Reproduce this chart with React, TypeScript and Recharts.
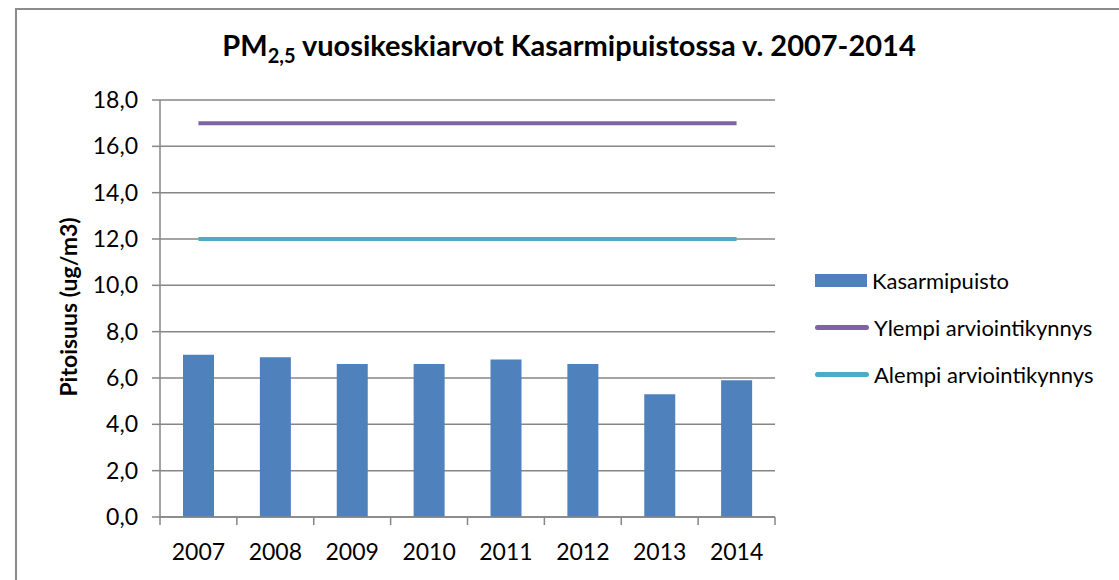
import React from 'react';
import { ComposedChart, Bar, Line, XAxis, YAxis, CartesianGrid, Label } from 'recharts';

const years = ['2007', '2008', '2009', '2010', '2011', '2012', '2013', '2014'];
const kasarmipuisto = [7.0, 6.9, 6.6, 6.6, 6.8, 6.6, 5.3, 5.9];
const ylempi = [17, 17, 17, 17, 17, 17, 17, 17];
const alempi = [12, 12, 12, 12, 12, 12, 12, 12];
const yTicks = [0, 2, 4, 6, 8, 10, 12, 14, 16, 18];

const data = years.map((y, i) => ({
  year: y,
  kasarmipuisto: kasarmipuisto[i],
  ylempi: ylempi[i],
  alempi: alempi[i],
}));

const W = 1119;
const H = 580;
const FONT = 'Lato, "Open Sans", sans-serif';
const GRID = '#868686';
const PLOT_LEFT = 160;
const PLOT_RIGHT = 775;
const BAND = (PLOT_RIGHT - PLOT_LEFT) / years.length;

const legendItems = [
  { name: 'Kasarmipuisto', color: '#4F81BD', type: 'bar' },
  { name: 'Ylempi arviointikynnys', color: '#8064A2', type: 'line' },
  { name: 'Alempi arviointikynnys', color: '#4BACC6', type: 'line' },
];

const XTick = (props: any) => {
  const { x, y, payload, index } = props;
  return (
    <g>
      <line x1={x - BAND / 2} x2={x - BAND / 2} y1={y} y2={y + 8} stroke={GRID} strokeWidth={1.5} />
      {index === years.length - 1 && (
        <line x1={x + BAND / 2} x2={x + BAND / 2} y1={y} y2={y + 8} stroke={GRID} strokeWidth={1.5} />
      )}
      <text x={x} y={y + 43} textAnchor="middle" fontSize={23} fill="#000" fontFamily={FONT}>
        {payload.value}
      </text>
    </g>
  );
};

const App: React.FC = () => {
  return (
    <div style={{ position: 'absolute', left: 0, top: 0, width: W, height: H, overflow: 'hidden', background: '#fff' }}>
      <div
        style={{
          position: 'absolute',
          left: 15,
          top: 8,
          width: W,
          height: H,
          borderLeft: '2px solid #8c8c8c',
          borderTop: '2px solid #8c8c8c',
        }}
      />
      <div
        style={{
          position: 'absolute',
          left: 0,
          top: 27,
          width: 1138,
          textAlign: 'center',
          fontFamily: FONT,
          fontWeight: 700,
          fontSize: 29,
          color: '#000',
        }}
      >
        PM<sub style={{ fontSize: 20 }}>2,5</sub> vuosikeskiarvot Kasarmipuistossa v. 2007-2014
      </div>
      <div style={{ position: 'absolute', left: 0, top: 0 }}>
        <ComposedChart
          width={W}
          height={H}
          data={data}
          margin={{ top: 100, right: W - PLOT_RIGHT, bottom: 23, left: 90 }}
        >
          <CartesianGrid vertical={false} stroke={GRID} strokeWidth={1.5} />
          <XAxis
            dataKey="year"
            height={40}
            tickSize={0}
            tickMargin={0}
            axisLine={{ stroke: GRID, strokeWidth: 1.5 }}
            tickLine={false}
            tick={<XTick />}
            interval={0}
          />
          <YAxis
            width={70}
            domain={[0, 18]}
            ticks={yTicks}
            tickFormatter={(v: number) => v.toFixed(1).replace('.', ',')}
            tickSize={8}
            tickMargin={14}
            axisLine={{ stroke: GRID, strokeWidth: 1.5 }}
            tickLine={{ stroke: GRID, strokeWidth: 1.5 }}
            tick={{ fontSize: 23, fill: '#000', fontFamily: FONT }}
          >
            <Label
              content={() => (
                <text
                  x={77}
                  y={307}
                  transform="rotate(-90 77 307)"
                  textAnchor="middle"
                  fontSize={23}
                  fontWeight={700}
                  fontFamily={FONT}
                  fill="#000"
                >
                  Pitoisuus (ug/m3)
                </text>
              )}
            />
          </YAxis>
          <Bar dataKey="kasarmipuisto" fill="#4F81BD" barSize={31} isAnimationActive={false} />
          <Line dataKey="ylempi" stroke="#8064A2" strokeWidth={4} dot={false} isAnimationActive={false} />
          <Line dataKey="alempi" stroke="#4BACC6" strokeWidth={4} dot={false} isAnimationActive={false} />
        </ComposedChart>
      </div>
      <div style={{ position: 'absolute', left: 815, top: 257, fontFamily: FONT, fontSize: 22, color: '#000' }}>
        {legendItems.map((it) => (
          <div key={it.name} style={{ display: 'flex', alignItems: 'center', height: 47 }}>
            {it.type === 'bar' ? (
              <div style={{ width: 52, height: 13, background: it.color }} />
            ) : (
              <div style={{ width: 54, height: 5, borderRadius: 3, background: it.color }} />
            )}
            <span style={{ marginLeft: 5 }}>{it.name}</span>
          </div>
        ))}
      </div>
    </div>
  );
};

export default App;
